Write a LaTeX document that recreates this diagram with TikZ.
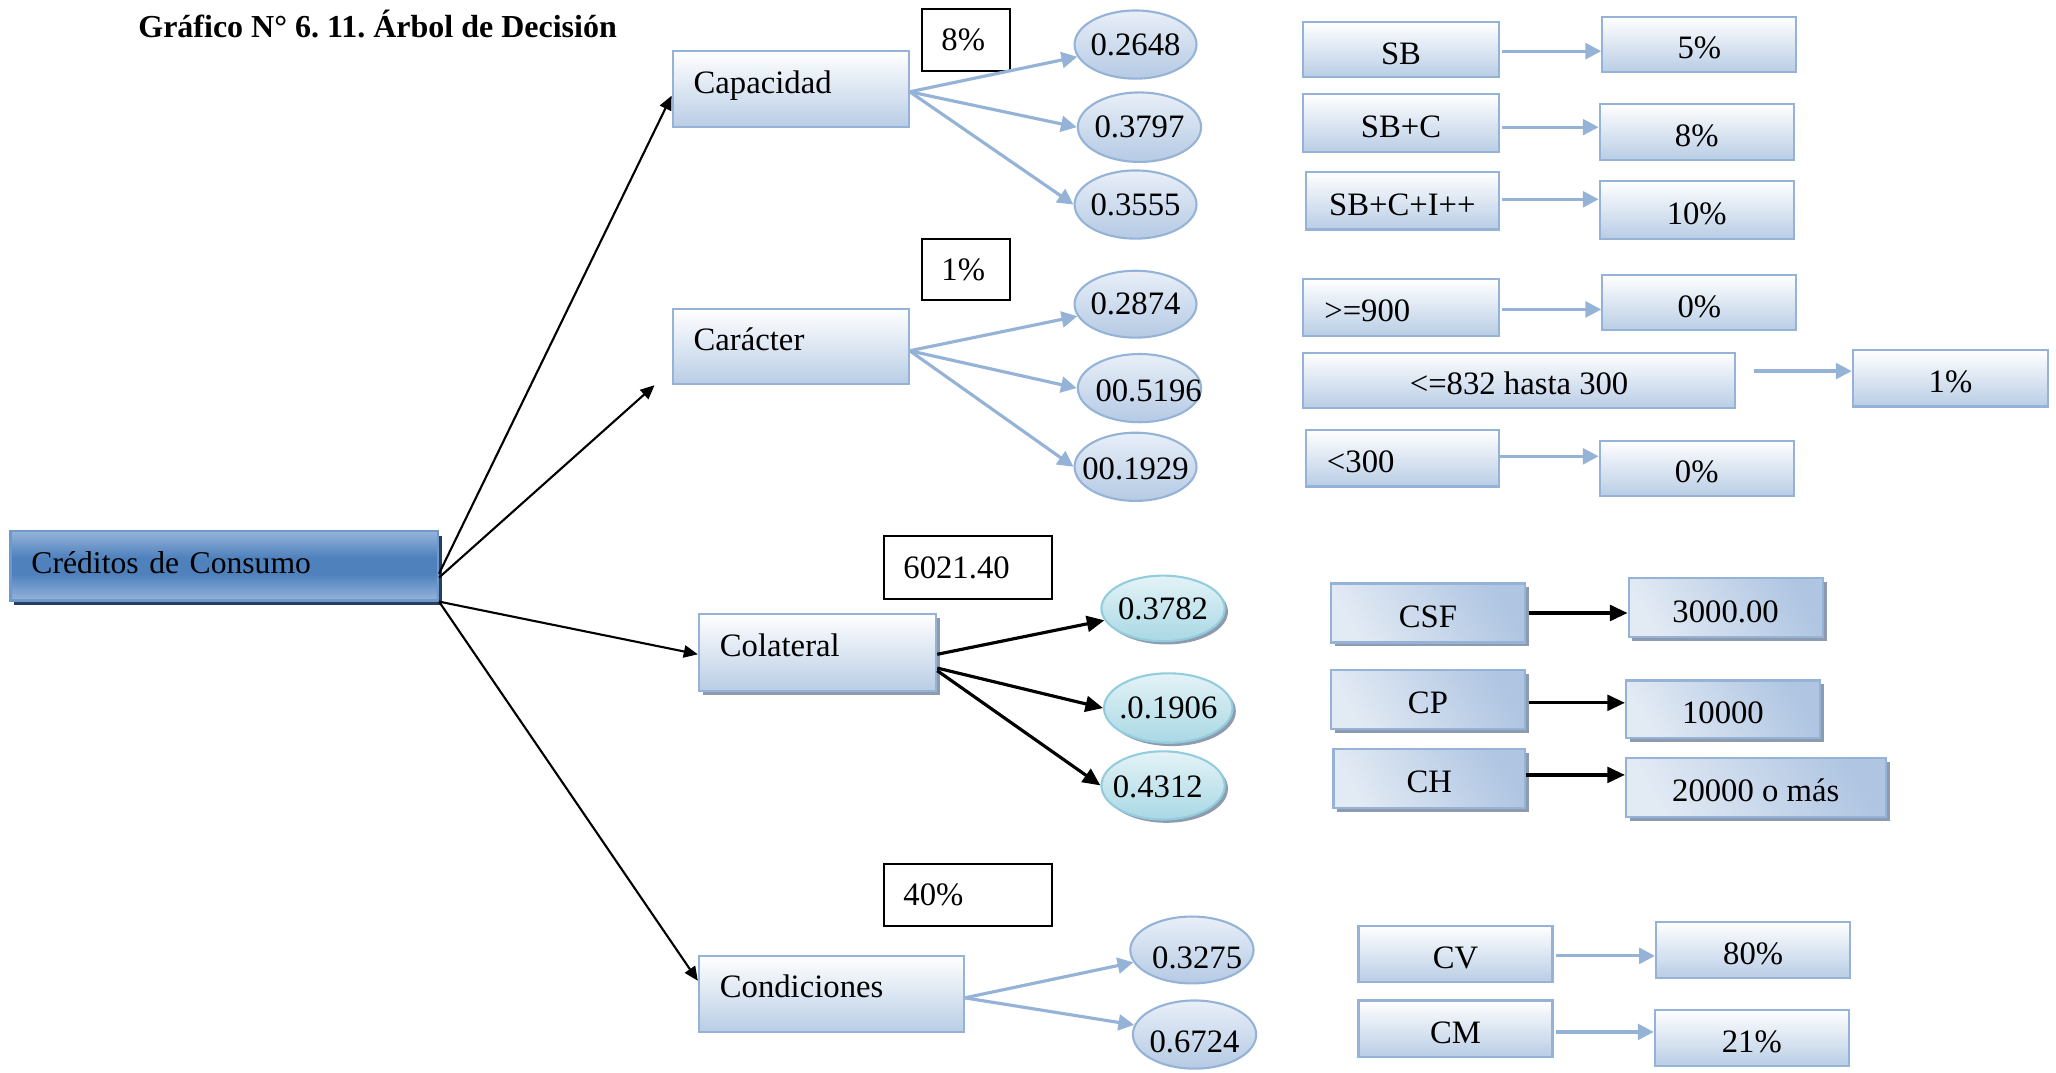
\documentclass[tikz,border=0pt]{standalone}
\usepackage{fontspec}
\setmainfont{Liberation Serif}
\usetikzlibrary{arrows.meta,shapes.geometric,shadows,calc}
\frenchspacing
\newdimen\px \px=0.013112cm
\newcommand\zw[1]{\makebox[0pt]{#1}}
\definecolor{edge}{HTML}{95B3D7}
\definecolor{boxlow}{HTML}{B9CDE5}
\definecolor{elltop}{HTML}{E8EFF8}
\definecolor{elllow}{HTML}{B5CAE4}
\definecolor{rootmid}{HTML}{4F81BD}
\definecolor{rootrim}{HTML}{95B4DB}
\definecolor{rootline}{HTML}{6F98CB}
\definecolor{rootshade}{HTML}{243F60}
\definecolor{shade}{HTML}{8E9BAE}
\definecolor{tealtop}{HTML}{E4F3F7}
\definecolor{teallow}{HTML}{A9D8E4}
\definecolor{tealline}{HTML}{93CDDD}
\definecolor{steel}{HTML}{AFC5E2}
\definecolor{steeltop}{HTML}{E2EAF4}
% light rim, dark band, light rim (top to bottom)
\pgfdeclareverticalshading{rootfill}{100bp}{color(0bp)=(rootrim); color(25bp)=(rootrim);
  color(44bp)=(rootmid); color(56bp)=(rootmid); color(75bp)=(rootrim); color(100bp)=(rootrim)}
\begin{document}
\begin{tikzpicture}[x=0.013112cm, y=-0.013112cm,
  every node/.style={font=\fontsize{9.3}{11}\selectfont},
  lbox/.style={draw=edge, line width=0.6pt, top color=white, bottom color=boxlow, inner sep=0pt},
  lft/.style={align=left, inner xsep=16\px},
  hi/.style={text height=9\px, text depth=3\px},
  lo/.style={text height=22\px, text depth=0pt},
  sink/.style={text height=#1, text depth=0pt},
  ell/.style={ellipse, draw=edge, line width=0.6pt, top color=elltop, bottom color=elllow, inner sep=0pt},
  teal/.style={ellipse, draw=tealline, line width=0.6pt, top color=tealtop, bottom color=teallow, inner sep=0pt,
    drop shadow={shadow xshift=2.5\px, shadow yshift=-2.5\px, fill=shade, opacity=1}},
  tag/.style={draw=black, line width=0.6pt, fill=white, inner ysep=0pt, align=left, inner xsep=15\px},
  steelbox/.style={draw=edge, line width=0.6pt, left color=steeltop, right color=steel, shading angle=120, inner sep=0pt,
    drop shadow={shadow xshift=3\px, shadow yshift=-3\px, fill=shade, opacity=1}},
  larr/.style={draw=edge, line width=0.9pt, -{Triangle[length=4.5pt,width=4.5pt]}},
  darr/.style={draw=black, line width=0.6pt, -{Triangle[length=4pt,width=3.5pt]}},
  barr/.style={draw=black, line width=0.9pt, -{Triangle[length=5pt,width=4.5pt]}}]
\useasboundingbox (0,0) rectangle (1568,818);

% title
\node[font=\fontsize{9.1}{11}\selectfont\bfseries, anchor=west, inner sep=0pt] (title) at (105,18)
  {Gráfico N° 6. 11. Árbol de Decisión};

% root
\node[draw=rootline, line width=0.6pt, shading=rootfill,
  drop shadow={shadow xshift=3\px, shadow yshift=-3.5\px, fill=rootshade, opacity=1},
  font=\fontsize{9}{11}\selectfont, lft, inner ysep=0pt, text width=294\px, minimum height=53\px,
  text height=11\px, text depth=0pt] (root) at (171,431.5) {Créditos de Consumo};

% first level criteria
\node[lbox, lft, hi, text width=148\px, minimum height=58\px] (cap) at (603,68) {Capacidad};
\node[lbox, lft, hi, text width=148\px, minimum height=57\px] (car) at (603,264.5) {Carácter};
\node[lbox, lft, hi, text width=149\px, minimum height=59\px,
  drop shadow={shadow xshift=3\px, shadow yshift=-3\px, fill=shade, opacity=1}] (col) at (623.5,497.5) {Colateral};
\node[lbox, lft, hi, text width=170\px, minimum height=58\px] (con) at (634,758) {Condiciones};

% weights
\node[tag, text width=37\px, minimum height=47\px] (w1) at (736.5,30.5) {8\%};
\node[tag, text width=37\px, minimum height=47\px] (w2) at (736.5,205.5) {1\%};
\node[tag, text width=98\px, minimum height=48\px] (w3) at (738,433) {6021.40};
\node[tag, text width=98\px, minimum height=47\px] (w4) at (738,682.5) {40\%};

% probabilities
\node[ell, minimum width=93\px, minimum height=52\px] (e1) at (866,34) {\zw{0.2648}};
\node[ell, minimum width=94\px, minimum height=53\px] (e2) at (869,97) {\zw{0.3797}};
\node[ell, minimum width=93\px, minimum height=52\px] (e3) at (866,156) {\zw{0.3555}};
\node[ell, minimum width=93\px, minimum height=51\px] (e4) at (866,232) {\zw{0.2874}};
\node[ell, sink=21\px, minimum width=94\px, minimum height=52\px] (e5) at (869,296) {\zw{\hspace{14\px}00.5196}};
\node[ell, sink=19\px, minimum width=93\px, minimum height=52\px] (e6) at (866,356) {\zw{00.1929}};
\node[teal, minimum width=94\px, minimum height=50\px] (t1) at (887,464) {\zw{0.3782}};
\node[teal, minimum width=98\px, minimum height=53\px] (t2) at (891,540) {\zw{.0.1906}};
\node[teal, sink=19\px, minimum width=94\px, minimum height=52\px] (t3) at (887,599) {\zw{\hspace{-8\px}0.4312}};
\node[ell, sink=28\px, minimum width=94\px, minimum height=51\px] (c1) at (909,724.5) {\zw{\hspace{8\px}0.3275}};
\node[ell, sink=27\px, minimum width=94\px, minimum height=52\px] (c2) at (911,789) {\zw{0.6724}};

% Capacidad outcomes
\node[lbox, lo, minimum width=149\px, minimum height=42\px] (sb) at (1068.5,38) {SB};
\node[lbox, lo, minimum width=148\px, minimum height=42\px] (r5) at (1296,34) {5\%};
\node[lbox, lo, minimum width=149\px, minimum height=44\px] (sbc) at (1068.5,94) {SB+C};
\node[lbox, lo, minimum width=148\px, minimum height=43\px] (r8) at (1294,100.5) {8\%};
\node[lbox, lo, minimum width=147\px, minimum height=44\px] (sbci) at (1069.5,153) {SB+C+I++};
\node[lbox, lo, minimum width=148\px, minimum height=44\px] (r10) at (1294,160) {10\%};

% Carácter outcomes
\node[lbox, lft, lo, text width=117\px, minimum height=43\px] (g900) at (1068.5,234.5) {>=900};
\node[lbox, lo, minimum width=148\px, minimum height=42\px] (r0a) at (1296,231) {0\%};
\node[lbox, lo, minimum width=329\px, minimum height=42\px] (l832) at (1158.5,290) {<=832 hasta 300};
\node[lbox, lo, minimum width=149\px, minimum height=43\px] (r1) at (1487.5,288.5) {1\%};
\node[lbox, lft, lo, text width=115\px, minimum height=43\px] (l300) at (1069.5,349.5) {<300};
\node[lbox, lo, minimum width=148\px, minimum height=42\px] (r0b) at (1294,357) {0\%};

% Colateral outcomes
\node[steelbox, lo, minimum width=148\px, minimum height=45\px] (csf) at (1089,467.5) {CSF};
\node[steelbox, lo, minimum width=148\px, minimum height=45\px] (r3000) at (1316,463.5) {3000.00};
\node[steelbox, lo, minimum width=148\px, minimum height=45\px] (cp) at (1089,533.5) {CP};
\node[steelbox, lo, minimum width=148\px, minimum height=44\px] (r10000) at (1314,541) {10000};
\node[steelbox, lo, minimum width=146\px, minimum height=45\px] (ch) at (1090,593.5) {CH};
\node[steelbox, lo, minimum width=198\px, minimum height=45\px] (r20000) at (1339,600.5) {20000 o más};

% Condiciones outcomes
\node[lbox, lo, minimum width=148\px, minimum height=43\px] (cv) at (1110,727.5) {CV};
\node[lbox, lo, minimum width=148\px, minimum height=43\px] (r80) at (1337,724.5) {80\%};
\node[lbox, lo, minimum width=148\px, minimum height=43\px] (cm) at (1110,784.5) {CM};
\node[lbox, lo, minimum width=148\px, minimum height=43\px] (r21) at (1336,791.5) {21\%};

% root branches
\draw[darr] ($(root.east)+(0,6)$) -- ($(cap.west)+(0,5)$);
\draw[darr] ($(root.east)+(0,9)$) -- ($(car.south west)+(-13,0)$);
\draw[darr] (root.south east) -- ($(col.west)+(0,1.5)$);
\draw[darr] (root.south east) -- ($(con.west)+(0,-10)$);

% criterion branches
\draw[larr] ($(cap.east)+(0,2)$) -- (e1);
\draw[larr] ($(cap.east)+(0,2)$) -- (e2.west);
\draw[larr] ($(cap.east)+(0,2)$) -- (e3.west);
\draw[larr] ($(car.east)+(0,3)$) -- (e4);
\draw[larr] ($(car.east)+(0,3)$) -- (e5.west);
\draw[larr] ($(car.east)+(0,3)$) -- (e6.west);
\draw[barr] ($(col.east)+(0,1.5)$) -- (t1);
\draw[barr] ($(col.east)+(0,12)$) -- (t2.west);
\draw[barr] ($(col.east)+(0,14)$) -- (t3.west);
\draw[larr] ($(con.east)+(0,3)$) -- (c1);
\draw[larr] ($(con.east)+(0,3)$) -- (c2);

% outcome links
\draw[larr] ($(sb.east)+(2,1)$) -- ($(sb.east -| r5.west)+(0,1)$);
\draw[larr] ($(sbc.east)+(2,3)$) -- ($(sbc.east -| r8.west)+(0,3)$);
\draw[larr] ($(sbci.east)+(2,-1)$) -- ($(sbci.east -| r10.west)+(0,-1)$);
\draw[larr] ($(g900.east)+(2,1.5)$) -- ($(g900.east -| r0a.west)+(0,1.5)$);
\draw[larr] ($(l832.east)+(14,-7)$) -- ($(l832.east -| r1.west)+(0,-7)$);
\draw[larr] ($(l300.east)+(0,-1.5)$) -- ($(l300.east -| r0b.west)+(0,-1.5)$);
\draw[barr] ($(csf.east)+(2,0)$) -- (csf.east -| r3000.west);
\draw[barr] ($(cp.east)+(2,2.5)$) -- ($(cp.east -| r10000.west)+(0,2.5)$);
\draw[barr] ($(ch.east)+(0,-2.5)$) -- ($(ch.east -| r20000.west)+(0,-2.5)$);
\draw[larr] ($(cv.east)+(2,1.5)$) -- ($(cv.east -| r80.west)+(0,1.5)$);
\draw[larr] ($(cm.east)+(2,2.5)$) -- ($(cm.east -| r21.west)+(0,2.5)$);
\end{tikzpicture}
\end{document}
